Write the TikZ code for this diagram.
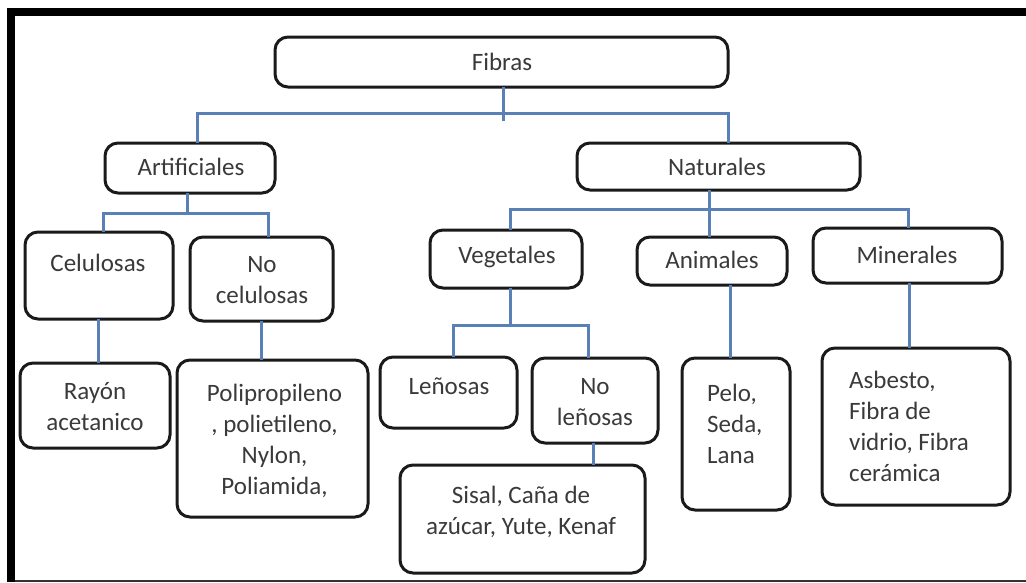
\documentclass[tikz,border=0pt]{standalone}
\usepackage{fontspec}
\setmainfont{Carlito}
\definecolor{txtgray}{HTML}{3A3A3A}
\definecolor{connblue}{HTML}{5A80B8}
\definecolor{boxline}{HTML}{1A1A1A}
\newcommand\mybox[5]{%
  \node[box, minimum width={#4-#2}, minimum height={#5-#3}] (#1) at ({(#2+#4)/2},{(#3+#5)/2}) {};}
\begin{document}
\begin{tikzpicture}[x=1pt,y=-1pt,
  box/.style={draw=boxline, line width=3pt, rounded corners=13pt, fill=white, inner sep=0pt, outer sep=0pt},
  conn/.style={draw=connblue, line width=3pt},
  txt/.style={text=txtgray, inner sep=0pt, align=center, font=\fontsize{25}{31}\selectfont},
  txtl/.style={txt, align=left, anchor=west}]
% canvas and frame
\fill[white] (0,0) rectangle (1026,582);
\useasboundingbox (0,0) rectangle (1026,582);
\fill[black] (7,8) rectangle (1026,16);
\fill[black] (7,8) rectangle (15,582);
\fill[black!80] (15,580) rectangle (1026,582);

% boxes
\mybox{fib}{275}{37}{728}{87}
\mybox{art}{105}{143}{275}{193}
\mybox{nat}{577}{143}{860}{190}
\mybox{cel}{25}{232}{173}{319}
\mybox{ncel}{190}{237}{333}{321}
\mybox{veg}{430}{230}{582}{288}
\mybox{ani}{637}{237}{787}{285}
\mybox{min}{813}{228}{1002}{283}
\mybox{ray}{20}{363}{170}{448}
\mybox{poli}{177}{360}{368}{517}
\mybox{len}{380}{357}{517}{428}
\mybox{nlen}{532}{358}{658}{443}
\mybox{sis}{400}{465}{645}{573}
\mybox{pelo}{682}{358}{790}{510}
\mybox{asb}{822}{348}{1010}{505}

% connectors
\draw[conn] ([xshift=1.5pt]fib.south) -- ++(0,34);
\draw[conn] ([xshift=7pt]art.north) -- ++(0,-30) -| ([xshift=9.5pt]nat.north);
\draw[conn] ([xshift=-3pt]art.south) -- ++(0,20);
\draw[conn] ([xshift=4pt]cel.north) -- ++(0,-19) -| ([xshift=6.5pt]ncel.north);
\draw[conn] ([xshift=-9.5pt]nat.south) -- ([xshift=-3pt]ani.north);
\draw[conn] ([xshift=4pt]veg.north) -- ++(0,-21) -| ([xshift=0.5pt]min.north);
\draw[conn] ([xshift=-1pt]cel.south) -- ([xshift=-1pt]cel.south |- ray.north);
\draw[conn] (ncel.south) -- (ncel.south |- poli.north);
\draw[conn] ([xshift=4pt]veg.south) -- ++(0,37);
\draw[conn] ([xshift=4.5pt]len.north) -- ++(0,-32) -| ([xshift=-7pt]nlen.north);
\draw[conn] ([xshift=-2pt]nlen.south) -- ([xshift=-2pt]nlen.south |- sis.north);
\draw[conn] ([xshift=18pt]ani.south) -- ([xshift=18pt]ani.south |- pelo.north);
\draw[conn] ([xshift=1.5pt]min.south) -- ([xshift=1.5pt]min.south |- asb.north);

% texts
\node[txt] (fib-t) at (502,62) {Fibras};
\node[txt] (art-t) at (191,167) {Artificiales};
\node[txt] (nat-t) at (717,167) {Naturales};
\node[txt] (cel-t) at (98,263) {Celulosas};
\node[txt] (ncel-t) at (262,280) {No\\celulosas};
\node[txt] (veg-t) at (507,257) {Vegetales};
\node[txt] (ani-t) at (712,260) {Animales};
\node[txt] (min-t) at (907,255) {Minerales};
\node[txt] (ray-t) at (95,407) {Rayón\\acetanico};
\node[txt] (poli-t) at (274.5,441) {Polipropileno\\, polietileno,\\Nylon,\\Poliamida,};
\node[txt] (len-t) at (449,386) {Leñosas};
\node[txt] (nlen-t) at (595,402) {No\\leñosas};
\node[txt] (sis-t) at (521,512) {Sisal, Caña de\\azúcar, Yute, Kenaf};
\node[txtl] (pelo-t) at (707,423.5) {Pelo,\\Seda,\\Lana};
\node[txtl] (asb-t) at (849,426.5) {Asbesto,\\Fibra de\\vidrio, Fibra\\cerámica};
\end{tikzpicture}
\end{document}
